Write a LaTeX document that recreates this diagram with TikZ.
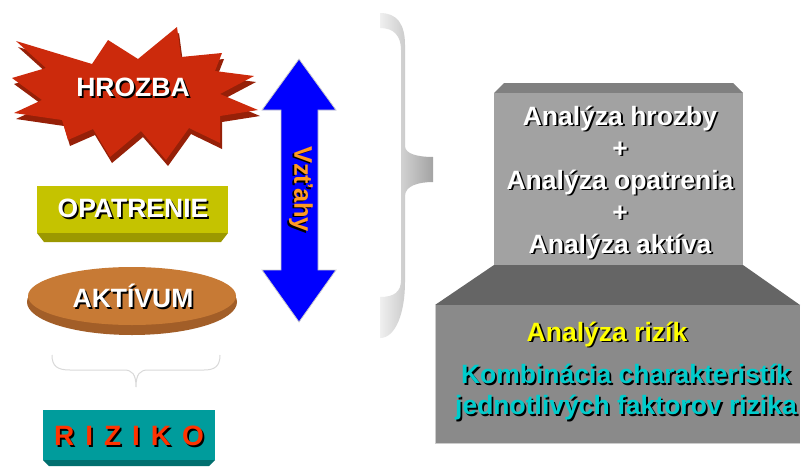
\documentclass[tikz,border=0pt]{standalone}
\usepackage{fontspec}
\setmainfont{Liberation Sans}
\usetikzlibrary{shapes.geometric}

\definecolor{starface}{HTML}{CC2A0C}
\definecolor{starside}{HTML}{962008}
\definecolor{opaface}{HTML}{C5C300}
\definecolor{opaside}{HTML}{9B9800}
\definecolor{aktface}{HTML}{C77A35}
\definecolor{aktside}{HTML}{A25E28}
\definecolor{rizface}{HTML}{009C9C}
\definecolor{rizside}{HTML}{006F6F}
\definecolor{rizred}{HTML}{FF3300}
\definecolor{vztorange}{HTML}{FF9A22}
\definecolor{upface}{HTML}{A2A2A2}
\definecolor{uptop}{HTML}{808080}
\definecolor{lowface}{HTML}{8A8A8A}
\definecolor{lowtop}{HTML}{656565}
\definecolor{yel}{HTML}{FFFF00}
\definecolor{tealtxt}{HTML}{00CCCC}

% text with a dark drop shadow
\newcommand{\shtxt}[1]{\leavevmode\rlap{\kern1.8pt\raisebox{-1.8pt}{\textcolor{black}{#1}}}#1}

% outline of the starburst
\newcommand{\starpts}{(16,41) -- (92,64) -- (108,40) -- (138,59) -- (177,27) -- (181,57)
  -- (222,53) -- (215,71) -- (254,76) -- (220,94) -- (258,110) -- (220,116)
  -- (220,143) -- (189,128) -- (166,160) -- (141,131) -- (110,157) -- (93,129)
  -- (68,140) -- (62,120) -- (14,113) -- (42,100) -- (12,78) -- (46,68) -- cycle}

\tikzset{
  lbl/.style={font=\bfseries\fontsize{26.5}{31}\selectfont, text=white, inner sep=0pt, align=center},
  thinbrace/.style={draw=gray!30, line width=1pt},
  arrowfill/.style={fill={rgb,255:red,0;green,0;blue,255}, draw=gray!40, line width=0.8pt},
}

\begin{document}
\begin{tikzpicture}[x=1pt,y=-1pt]
\fill[white] (0,0) rectangle (802,466);
\useasboundingbox (0,0) rectangle (802,466);

% starburst: HROZBA
\fill[starside, shift={(2,6)}] \starpts;
\fill[starface] \starpts;
\node[lbl] (hrozba) at (133,88) {\shtxt{HROZBA}};

% bar: OPATRENIE
\fill[opaside] (37,233) -- (228,233) -- (221,242) -- (44,242) -- cycle;
\fill[opaface] (37,186) rectangle (228,233);
\node[lbl] (opatrenie) at (133,209) {\shtxt{OPATRENIE}};

% disc: AKTIVUM
\fill[aktside] (132,302) ellipse [x radius=105pt, y radius=33pt];
\fill[aktface] (132,296) ellipse [x radius=104pt, y radius=29pt];
\node[lbl] (aktivum) at (133,297) {\shtxt{AKTÍVUM}};

% small brace below the three factors
\draw[thinbrace] (52,355) .. controls (52,366) and (57,370) .. (70,370) -- (124,370)
  .. controls (132,370) and (136,374) .. (136,387)
  .. controls (136,374) and (140,370) .. (148,370) -- (204,370)
  .. controls (215,370) and (220,366) .. (220,355);

% bar: RIZIKO
\fill[rizside] (43,460) -- (215,460) -- (209,466) -- (49,466) -- cycle;
\fill[rizface] (43,410) rectangle (215,460);
\node[lbl, font=\bfseries\fontsize{28}{32}\selectfont, text=rizred] (riziko) at (129,437)
  {\shtxt{R}\hspace{11pt}\shtxt{I}\hspace{11pt}\shtxt{Z}\hspace{11pt}\shtxt{I}\hspace{11pt}\shtxt{K}\hspace{11pt}\shtxt{O}};

% double arrow
\filldraw[arrowfill] (299,59) -- (336,110) -- (318,110) -- (318,270) -- (336,270)
  -- (299,322) -- (262,270) -- (281,270) -- (281,110) -- (262,110) -- cycle;
\node[lbl, text=vztorange, rotate=-90, font=\bfseries\fontsize{25.5}{30}\selectfont] (vztahy) at (300,189) {\shtxt{Vzťahy}};

% large shaded brace
\shade[left color=gray!12, right color=gray!72]
  (380,13) .. controls (397,13) and (405,24) .. (405,45)
  -- (405,146) .. controls (405,154) and (418,157) .. (433,157)
  -- (433,182) .. controls (418,182) and (405,186) .. (405,196)
  -- (405,282) .. controls (405,312) and (396,338) .. (380,338)
  -- (380,297) .. controls (394,297) and (401,292) .. (401,280)
  -- (401,50) .. controls (401,36) and (394,28) .. (380,28) -- cycle;

% upper block
\fill[uptop] (494,93) -- (504,83) -- (733,83) -- (743,93) -- cycle;
\fill[upface] (494,93) rectangle (743,265);
\node[lbl, font=\bfseries\fontsize{26.5}{32}\selectfont] (analyzy) at (620,183)
  {\shtxt{Analýza hrozby}\\ \shtxt{+}\\ \shtxt{Analýza opatrenia}\\ \shtxt{+}\\ \shtxt{Analýza aktíva}};

% lower block
\fill[lowtop] (494,265) -- (743,265) -- (800,305) -- (435,305) -- cycle;
\fill[lowface] (435,305) rectangle (800,443);
\draw[gray!40, line width=0.6pt] (435,305) -- (435,443) -- (800,443);
\node[lbl, text=yel] (rizika) at (607,335) {\shtxt{Analýza rizík}};
\node[lbl, text=tealtxt] (kombinacia) at (626,393)
  {\shtxt{Kombinácia charakteristík}\\ \shtxt{jednotlivých faktorov rizika}};
\end{tikzpicture}
\end{document}
